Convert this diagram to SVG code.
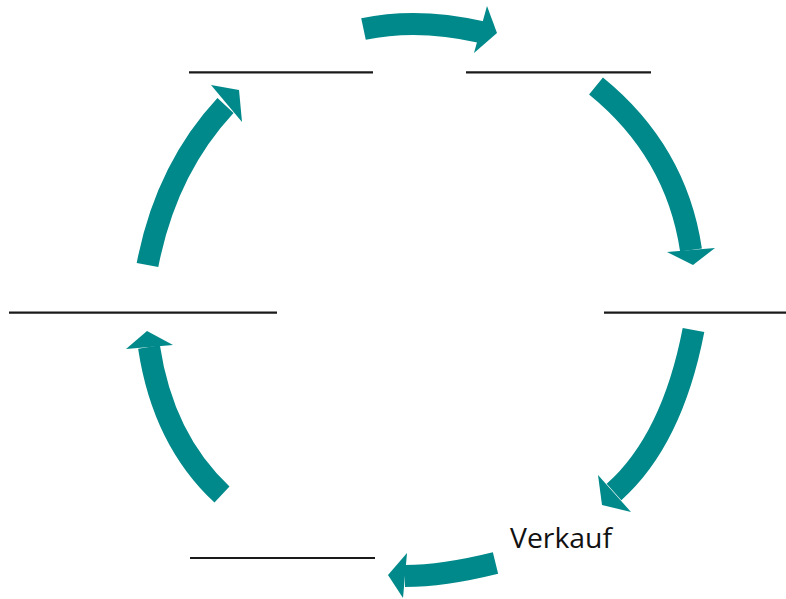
<svg xmlns="http://www.w3.org/2000/svg" width="786" height="599" viewBox="0 0 786 599">
<style>
.body{fill:none;stroke:#00898A;stroke-width:22;stroke-linecap:butt}
.head{fill:#00898A}
.ln{stroke:#1a1a1a;stroke-width:2.2}
.lbl{font-family:"Open Sans","Noto Sans",sans-serif;font-size:28px;fill:#111}
</style>
<rect width="786" height="599" fill="#fff"/>
<g id="blank-top-left"><line class="ln" x1="189" y1="72.3" x2="373" y2="72.3"/></g>
<g id="blank-top-right"><line class="ln" x1="466" y1="72.3" x2="651" y2="72.3"/></g>
<g id="blank-left"><line class="ln" x1="9" y1="312.6" x2="277" y2="312.6"/></g>
<g id="blank-right"><line class="ln" x1="604" y1="312.7" x2="786" y2="312.7"/></g>
<g id="blank-bottom"><line class="ln" x1="190" y1="558" x2="375" y2="558"/></g>
<g id="verkauf"><text class="lbl" x="510" y="548" textLength="102" lengthAdjust="spacingAndGlyphs">Verkauf</text></g>
<g id="connectors">
<path class="body" d="M363.5,29 Q417.8,17.5 481,32"/>
<polygon class="head" points="487,6 497,33 474,53"/>
<path class="body" d="M596,86 Q676.3,151.3 691,250"/>
<polygon class="head" points="667,252 715,248 693,265"/>
<path class="body" d="M693.5,330 Q672.2,440.1 614,492"/>
<polygon class="head" points="598,475 631,512 602,505"/>
<path class="body" d="M495.5,563 Q443,576 405,576"/>
<polygon class="head" points="407,553 403,598 388,575"/>
<path class="body" d="M222,494.5 Q163,439.6 149,347"/>
<polygon class="head" points="126,349 173,345 147,331"/>
<path class="body" d="M147.5,265 Q166,169.4 225.5,105.5"/>
<polygon class="head" points="211,85 242,122 239,90"/>
</g>
</svg>
